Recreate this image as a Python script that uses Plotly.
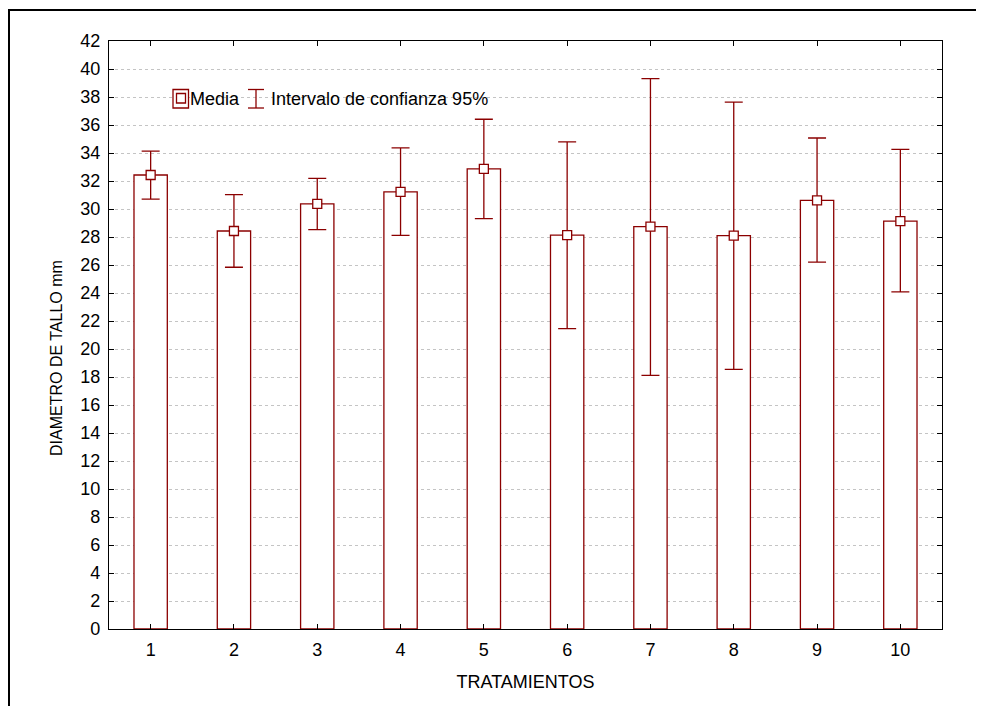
import plotly.graph_objects as go

# ---- data ----
tratamientos = [1, 2, 3, 4, 5, 6, 7, 8, 9, 10]
media = [32.43, 28.43, 30.37, 31.22, 32.86, 28.14, 28.74, 28.10, 30.62, 29.14]
ic_sup = [34.14, 31.02, 32.19, 34.36, 36.41, 34.79, 39.31, 37.64, 35.07, 34.26]
ic_inf = [30.71, 25.84, 28.53, 28.12, 29.31, 21.45, 18.12, 18.55, 26.21, 24.08]
y_ticks = list(range(0, 43, 2))

RED = "#8B0000"
FONT = "Liberation Sans, Arial, sans-serif"

err_plus = [s - m for s, m in zip(ic_sup, media)]
err_minus = [m - i for m, i in zip(media, ic_inf)]

fig = go.Figure()
fig.add_trace(go.Bar(
    x=tratamientos, y=media, width=0.4,
    marker=dict(color="white", line=dict(color=RED, width=1.3)),
    showlegend=False, hoverinfo="skip",
))
fig.add_trace(go.Scatter(
    x=tratamientos, y=media, mode="markers",
    marker=dict(symbol="square", size=9, color="white", line=dict(color=RED, width=1.3)),
    error_y=dict(type="data", symmetric=False, array=err_plus, arrayminus=err_minus,
                 color=RED, thickness=1.3, width=9),
    showlegend=False,
))

# page has an 8px body margin, so the figure is drawn 8px smaller and offset
OFF = 8
W, H = 984 - OFF, 706 - OFF
L, R, T, B = 109 - OFF, 42, 41 - OFF, 77
pw, ph = W - L - R, H - T - B


def px(x):
    # x given in window pixels
    return (x - OFF - L) / pw


def py(y):
    # y given in window pixels
    return (H - B - (y - OFF)) / ph


shapes = []
# outer figure frame (only left/top visible in the window)
shapes.append(dict(type="rect", xref="paper", yref="paper",
                   x0=px(9), x1=px(1100), y0=py(10), y1=py(800),
                   line=dict(color="black", width=2)))
# legend: Media symbol
shapes.append(dict(type="rect", xref="paper", yref="paper",
                   x0=px(173), x1=px(188.5), y0=py(89.5), y1=py(108),
                   line=dict(color=RED, width=1.3), fillcolor="white"))
shapes.append(dict(type="rect", xref="paper", yref="paper",
                   x0=px(176.5), x1=px(185.5), y0=py(93.5), y1=py(103),
                   line=dict(color=RED, width=1.3), fillcolor="white"))
# legend: confidence-interval symbol
shapes.append(dict(type="line", xref="paper", yref="paper",
                   x0=px(256), x1=px(256), y0=py(89.5), y1=py(108),
                   line=dict(color=RED, width=1.3)))
shapes.append(dict(type="line", xref="paper", yref="paper",
                   x0=px(248), x1=px(264), y0=py(89.5), y1=py(89.5),
                   line=dict(color=RED, width=1.3)))
shapes.append(dict(type="line", xref="paper", yref="paper",
                   x0=px(248), x1=px(264), y0=py(108), y1=py(108),
                   line=dict(color=RED, width=1.3)))

annotations = [
    dict(text="Media", xref="paper", yref="paper", x=px(188), y=py(99),
         xanchor="left", yanchor="middle", showarrow=False,
         font=dict(family=FONT, size=18, color="black")),
    dict(text="Intervalo de confianza 95%", xref="paper", yref="paper", x=px(269), y=py(99),
         xanchor="left", yanchor="middle", showarrow=False,
         font=dict(family=FONT, size=18, color="black")),
    # y-axis title (placed like the original, slightly below the plot centre)
    dict(text="DIAMETRO DE TALLO mm", xref="paper", yref="paper", x=px(56), y=py(358),
         xanchor="center", yanchor="middle", textangle=-90, showarrow=False,
         font=dict(family=FONT, size=16, color="black")),
]

fig.update_layout(
    width=W, height=H,
    margin=dict(l=L, r=R, t=T, b=B),
    paper_bgcolor="white", plot_bgcolor="white",
    font=dict(family=FONT, size=18, color="black"),
    shapes=shapes, annotations=annotations,
    showlegend=False,
)
fig.update_xaxes(
    range=[0.5, 10.5], tickvals=tratamientos, ticktext=[str(t) for t in tratamientos],
    showgrid=False, zeroline=False,
    showline=True, linecolor="black", linewidth=1.3, mirror="ticks",
    ticks="inside", ticklen=5, tickcolor="black", tickwidth=1.3,
    tickfont=dict(size=18), ticklabelstandoff=4,
    title=dict(text="TRATAMIENTOS", font=dict(size=18), standoff=16),
    automargin=False,
)
fig.update_yaxes(
    range=[0, 42], tickvals=y_ticks, ticktext=[str(v) for v in y_ticks],
    showgrid=True, gridcolor="#c4c4c4", griddash="dot", gridwidth=1,
    zeroline=False,
    showline=True, linecolor="black", linewidth=1.3, mirror="ticks",
    ticks="inside", ticklen=5, tickcolor="black", tickwidth=1.3,
    tickfont=dict(size=18), ticklabelstandoff=4,
    automargin=False,
)

fig.write_html("out.html")
